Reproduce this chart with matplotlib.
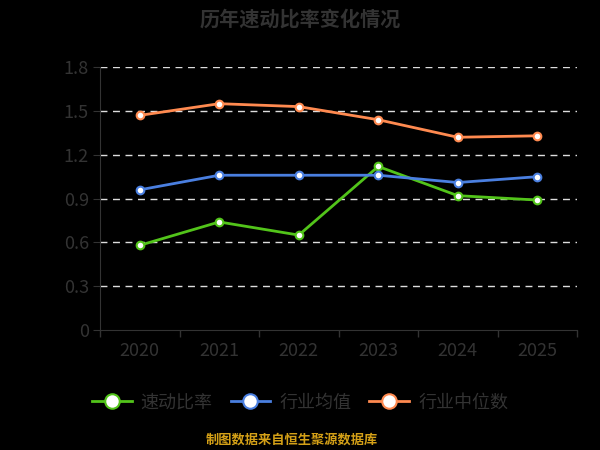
import matplotlib.pyplot as plt
import numpy as np

plt.rcParams['font.family'] = ['Noto Sans CJK SC', 'DejaVu Sans']

# data
years = ['2020', '2021', '2022', '2023', '2024', '2025']
quick_ratio = [0.58, 0.74, 0.65, 1.12, 0.92, 0.89]
industry_mean = [0.96, 1.06, 1.06, 1.06, 1.01, 1.05]
industry_median = [1.47, 1.55, 1.53, 1.44, 1.32, 1.33]
yticks = [0, 0.3, 0.6, 0.9, 1.2, 1.5, 1.8]
ytick_labels = ['0', '0.3', '0.6', '0.9', '1.2', '1.5', '1.8']

green = '#52c41a'
blue = '#4a7fe0'
orange = '#ff8a50'
textc = '#333333'

fig = plt.figure(figsize=(6, 4.5), dpi=100)
fig.patch.set_facecolor('black')
ax = fig.add_axes([0.1667, 0.2667, 0.795, 0.584])
ax.set_facecolor('black')

x = np.arange(len(years))
series = [(quick_ratio, green, '速动比率'),
          (industry_mean, blue, '行业均值'),
          (industry_median, orange, '行业中位数')]
for vals, col, name in series:
    ax.plot(x, vals, color=col, lw=2, marker='o', markersize=5.5,
            markerfacecolor='white', markeredgecolor=col, markeredgewidth=1.5,
            label=name, zorder=3)

ax.set_xlim(-0.5, len(years) - 0.5)
ax.set_ylim(0, 1.8)
ax.set_yticks(yticks)
ax.set_yticklabels(ytick_labels)
ax.set_xticks(x)
ax.set_xticklabels(years)
ax.set_xticks(np.arange(-0.5, len(years)), minor=True)
ax.tick_params(axis='x', which='major', length=0, pad=9, labelsize=13, labelcolor=textc)
ax.tick_params(axis='x', which='minor', length=5, color=textc, width=1)
ax.tick_params(axis='y', length=5, color=textc, labelsize=13, labelcolor=textc, pad=3)

for yv in yticks[1:]:
    ax.axhline(yv, color='#dddddd', lw=1, ls=(0, (5, 4)), zorder=1)

for s in ['top', 'right']:
    ax.spines[s].set_visible(False)
ax.spines['left'].set_color(textc)
ax.spines['bottom'].set_color(textc)

fig.text(0.5, 0.958, '历年速动比率变化情况', ha='center', va='center',
         fontsize=14.5, fontweight='heavy', color=textc)

leg = fig.legend(loc='center', bbox_to_anchor=(0.5, 0.105), ncol=3, frameon=False,
                 fontsize=13, handlelength=2.2, columnspacing=1.0, handletextpad=0.5,
                 markerscale=1.9)
for t in leg.get_texts():
    t.set_color(textc)

fig.text(0.487, 0.022, '制图数据来自恒生聚源数据库', ha='center', va='center',
         fontsize=9.5, fontweight='bold', color='#d4a017')

fig.savefig('out.png', dpi=100, facecolor='black')
